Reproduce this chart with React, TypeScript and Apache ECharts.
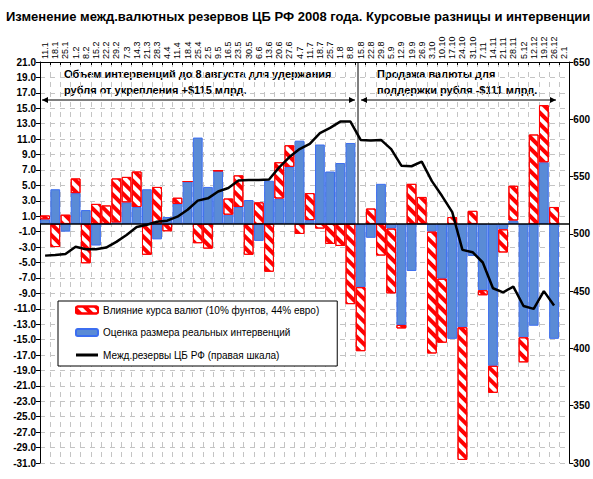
import React, { useEffect, useRef } from "react";
import * as echarts from "echarts";

const categories = [
  "11.1", "18.1", "25.1", "1.2", "8.2", "15.2", "22.2", "29.2", "7.3", "14.3",
  "21.3", "28.3", "4.4", "11.4", "18.4", "25.4", "2.5", "9.5", "16.5", "23.5",
  "30.5", "6.6", "13.6", "20.6", "27.6", "4.7", "11.7", "18.7", "25.7", "1.8",
  "8.8", "15.8", "22.8", "29.8", "5.9", "12.9", "19.9", "26.9", "3.10", "10.10",
  "17.10", "24.10", "31.10", "7.11", "14.11", "21.11", "28.11", "5.12", "12.12", "19.12",
  "26.12", "2.1",
];

// Оценка размера реальных интервенций (млрд $)
const interventions = [
  0.6, 4.5, -1.0, 4.0, 1.8, -2.8, 0, 0.2, 2.8, 2.2,
  4.5, -2.0, 0.9, 2.6, 5.5, 11.2, 4.8, 6.9, 1.2, 2.2,
  3.1, -2.2, 5.6, 3.3, 7.4, 10.8, 0.5, 10.3, 6.8, 7.9,
  10.5, -8.2, -1.8, 5.2, -0.6, -13.1, -6.1, 0, -1.0, -7.1,
  -14.9, -13.4, -4.15, -8.6, -18.4, -0.7, 0.45, -14.7, -13.2, 8.0,
  -14.9, null,
];

// Влияние курса валют (млрд $)
const fxEffect = [
  0.5, -3.0, 1.2, 1.9, -5.1, 2.6, 2.4, 5.7, 3.3, 4.6,
  -4.0, 4.8, -0.95, 0.8, 0, -2.5, -3.2, 0, 2.1, 4.1,
  -4.0, 2.8, -6.2, 4.7, 2.8, -1.3, 3.5, -0.6, -2.6, -2.85,
  -10.4, -8.3, 2.0, -4.1, -8.4, -0.45, 5.2, 3.5, -15.8, -8.3,
  0.9, -17.2, 1.7, -0.65, -3.5, -3.0, 4.5, -3.25, 11.6, 7.4,
  2.2, null,
];

// Межд.резервы ЦБ РФ (млрд $, правая шкала)
const reserves = [
  481, 481.5, 482.5, 488.8, 486.5, 486.5, 488, 493, 499, 506,
  508, 510.5, 511.5, 515, 521, 529, 531, 537, 540, 546.5,
  547, 547, 547.5, 558, 567, 574, 578.5, 588, 592.5, 598,
  598, 582, 581.5, 582, 574, 559.5, 559, 563, 546, 533,
  519, 486, 484, 475, 452.5, 449, 454, 437, 434.5, 450,
  437.5, null,
];

const leftTicks = { min: -31, max: 21, interval: 2 };
const rightTicks = { min: 300, max: 650, interval: 50 };

const NAME_FX = "Влияние курса валют (10% фунтов, 44% евро)";
const NAME_INT = "Оценка размера реальных интервенций";
const NAME_RES = "Межд.резервы ЦБ РФ (правая шкала)";

const TITLE =
  "Изменение межд.валютных резервов ЦБ РФ 2008 года. Курсовые разницы и интервенции";
const NOTE_LEFT = "Объем интервенций до 8 августа для удержания\nрубля от укрепления +$115 млрд.";
const NOTE_RIGHT = "Продажа валюты для\nподдержки рубля -$111 млрд.";

const FONT = "Liberation Sans, Arial, sans-serif";

function arrow(x1: number, x2: number, y: number) {
  return [
    {
      type: "line",
      shape: { x1, y1: y, x2, y2: y },
      style: { stroke: "#000", lineWidth: 1 },
    },
    {
      type: "polygon",
      shape: { points: [[x1, y], [x1 + 6, y - 3], [x1 + 6, y + 3]] },
      style: { fill: "#000" },
    },
    {
      type: "polygon",
      shape: { points: [[x2, y], [x2 - 6, y - 3], [x2 - 6, y + 3]] },
      style: { fill: "#000" },
    },
  ];
}

export default function App() {
  const ref = useRef<HTMLDivElement>(null);
  useEffect(() => {
    if (!ref.current) return;
    const chart = echarts.init(ref.current, undefined, { renderer: "svg" });
    const gridDash = { color: "#c4c4c4", width: 1, type: [5, 5] as any };
    const baseGraphics: any[] = [
      {
        type: "text",
        left: 6,
        top: 10,
        style: { text: TITLE, font: `bold 13px ${FONT}`, fill: "#000" },
      },
      {
        type: "text",
        x: 64,
        y: 66,
        style: { text: NOTE_LEFT, font: `bold 11px ${FONT}`, lineHeight: 16, fill: "#000" },
      },
      {
        type: "text",
        x: 377,
        y: 66,
        style: { text: NOTE_RIGHT, font: `bold 11px ${FONT}`, lineHeight: 16, fill: "#000" },
      },
      {
        type: "line",
        shape: { x1: 358, y1: 62, x2: 358, y2: 224 },
        style: { stroke: "#000", lineWidth: 1 },
      },
      ...arrow(42, 355, 100),
      ...arrow(361, 556, 100),
    ];
    chart.setOption({
      animation: false,
      backgroundColor: "#fff",
      textStyle: { fontFamily: FONT },
      grid: { left: 40, right: 21, top: 62, bottom: 16, containLabel: false },
      legend: {
        orient: "vertical",
        left: 58,
        top: 301,
        padding: [4, 18, 6, 17],
        itemGap: 12.5,
        itemWidth: 22,
        itemHeight: 7,
        borderColor: "#000",
        borderWidth: 1,
        backgroundColor: "#fff",
        data: [
          NAME_FX,
          NAME_INT,
          { name: NAME_RES, icon: "path://M0,0 L22,0 L22,3 L0,3 Z", itemStyle: { color: "#000" } },
        ],
        textStyle: { fontSize: 10, color: "#000", fontFamily: FONT },
      },
      xAxis: {
        type: "category",
        data: categories,
        position: "top",
        boundaryGap: true,
        axisLine: { show: true, onZero: false, lineStyle: { color: "#000" } },
        axisTick: { show: true, interval: 0, inside: true, length: 3, lineStyle: { color: "#000" } },
        axisLabel: { show: false },
        splitLine: { show: true, interval: 0, lineStyle: gridDash },
      },
      yAxis: [
        {
          type: "value",
          min: leftTicks.min,
          max: leftTicks.max,
          interval: leftTicks.interval,
          position: "left",
          axisLine: { show: true, lineStyle: { color: "#000", width: 1 } },
          axisTick: { show: true, length: 4, lineStyle: { color: "#000" } },
          axisLabel: {
            formatter: (v: number) => v.toFixed(1),
            fontSize: 10,
            fontWeight: "bold",
            color: "#000",
            margin: 4,
            fontFamily: FONT,
          },
          splitLine: { show: true, lineStyle: gridDash },
        },
        {
          type: "value",
          min: rightTicks.min,
          max: rightTicks.max,
          interval: rightTicks.interval,
          position: "right",
          axisLine: { show: true, lineStyle: { color: "#000", width: 1 } },
          axisTick: { show: true, length: 4, lineStyle: { color: "#000" } },
          axisLabel: {
            fontSize: 10,
            fontWeight: "bold",
            color: "#000",
            margin: 4,
            fontFamily: FONT,
          },
          splitLine: { show: false },
        },
      ],
      series: [
        {
          name: NAME_INT,
          type: "bar",
          stack: "total",
          data: interventions,
          barCategoryGap: "4%",
          itemStyle: { color: "#5A8BD6", borderColor: "#3C6EF0", borderWidth: 1 },
        },
        {
          name: NAME_FX,
          type: "bar",
          stack: "total",
          data: fxEffect,
          barCategoryGap: "4%",
          itemStyle: {
            color: "#ffffff",
            borderColor: "#ff0000",
            borderWidth: 1,
            decal: {
              symbol: "rect",
              symbolSize: 1,
              symbolKeepAspect: false,
              color: "#ff0000",
              dashArrayX: [1, 0],
              dashArrayY: [3.5, 3.5],
              rotation: Math.PI / 4,
            },
          },
          markLine: {
            silent: true,
            symbol: "none",
            label: { show: false },
            lineStyle: { color: "#000", width: 1.5, type: "solid" },
            data: [{ yAxis: 0 }],
          },
        },
        {
          name: NAME_RES,
          type: "line",
          yAxisIndex: 1,
          data: reserves,
          showSymbol: false,
          symbol: "none",
          lineStyle: { color: "#000", width: 2.5 },
          itemStyle: { color: "#000" },
          z: 5,
        },
      ],
      graphic: baseGraphics,
    });

    // Category labels, placed through the category axis scale.
    const labelGraphics = categories.map((c) => {
      const x = chart.convertToPixel({ xAxisIndex: 0 }, c) as number;
      return {
        type: "text",
        x,
        y: 59,
        rotation: Math.PI / 2,
        style: {
          text: c,
          font: `9px ${FONT}`,
          fill: "#000",
          align: "left",
          verticalAlign: "middle",
          textAlign: "left",
          textVerticalAlign: "middle",
        },
      };
    });
    chart.setOption({ graphic: [...baseGraphics, ...labelGraphics] });

    return () => chart.dispose();
  }, []);
  return (
    <div
      ref={ref}
      style={{ position: "fixed", left: 0, top: 0, width: 593, height: 479 }}
    />
  );
}
